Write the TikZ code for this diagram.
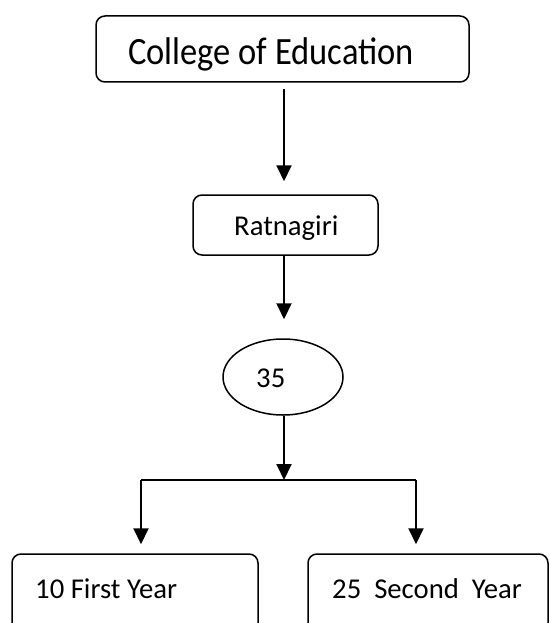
\documentclass[tikz,border=0pt]{standalone}
\usepackage{fontspec}
\setmainfont{Carlito}
\usetikzlibrary{arrows.meta,shapes.geometric,calc}
\tikzset{
  box/.style={draw=black, line width=1.5pt, rounded corners=9pt, inner sep=0pt},
  oval/.style={draw=black, line width=1.5pt, ellipse, inner sep=0pt},
  lbl/.style={anchor=base west, inner sep=0pt, font=\fontsize{28.7}{34}\selectfont},
  conn/.style={line width=2pt, -{Triangle[width=15pt,length=16pt]}},
  bar/.style={line width=1.6pt}
}
\begin{document}
\begin{tikzpicture}[x=1pt,y=-1pt]
\useasboundingbox (0,0) rectangle (549,623);
\clip (0,0) rectangle (549,623);
% boxes
\node[box, minimum width=373pt, minimum height=66pt] (top) at (282.5,49) {};
\node[box, minimum width=185pt, minimum height=60pt] (rat) at (285.5,225) {};
\node[oval, minimum width=120pt, minimum height=76pt] (ell) at (283,377) {};
\node[box, minimum width=246pt, minimum height=106pt] (first) at (135,607) {};
\node[box, minimum width=240pt, minimum height=106pt] (second) at (428,607) {};
% texts
\node[lbl, font=\fontsize{34.5}{40}\selectfont] (ttop) at (128,65) {\scalebox{1}[1.12]{College of Education}};
\node[lbl] (trat) at (234,235) {Ratnagiri};
\node[lbl] (tell) at (256,387) {35};
\node[lbl] (tfirst) at (35,598) {10 First Year};
\node[lbl] (tsecond) at (332,598) {25\ \ Second\ \ Year};
% junction
\coordinate (split) at (284,480);
\coordinate (jl) at (141,480);
\coordinate (jr) at (416,480);
% connectors
\draw[conn, shorten <=6pt, shorten >=13pt] (top.south -| split) -- (rat.north -| split);
\draw[conn, shorten >=19pt] (rat.south -| split) -- (ell.north -| split);
\draw[conn] (ell.south -| split) -- (split);
\draw[bar] (jl) -- (jr);
\draw[conn, shorten >=9pt] (jl) -- (first.north -| jl);
\draw[conn, shorten >=9pt] (jr) -- (second.north -| jr);
\end{tikzpicture}
\end{document}
